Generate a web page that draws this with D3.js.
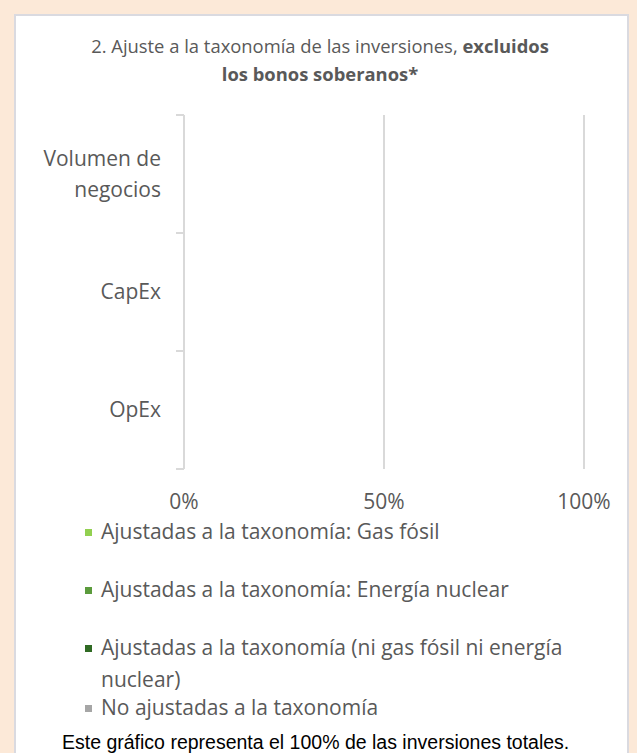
<!DOCTYPE html>
<html>
<head>
<meta charset="utf-8">
<script src="https://cdn.jsdelivr.net/npm/d3@7"></script>
<style>
  body { margin: 0; background: #fce9d8; }
  svg { display: block; }
</style>
</head>
<body>
<svg></svg>
<script>
const categories = ['Volumen de negocios', 'CapEx', 'OpEx'];
const seriesNames = [
    'Ajustadas a la taxonomía: Gas fósil',
    'Ajustadas a la taxonomía: Energía nuclear',
    'Ajustadas a la taxonomía (ni gas fósil ni energía nuclear)',
    'No ajustadas a la taxonomía'
];
const seriesColors = ['#92d050', '#5b9b3c', '#2f6a23', '#a6a6a6'];
// no values are shown in the picture: every bar is empty
const gasFosil = [0, 0, 0];
const nuclear = [0, 0, 0];
const otrasAjustadas = [0, 0, 0];
const noAjustadas = [0, 0, 0];
const xTicks = [0, 0.5, 1];

const width = 637, height = 753;
const svg = d3.select('svg').attr('width', width).attr('height', height);

// panel
svg.append('rect')
    .attr('x', 15).attr('y', 15)
    .attr('width', 613).attr('height', 760)
    .attr('fill', '#fff')
    .attr('stroke', '#dadae0')
    .attr('stroke-width', 2);

const grey = '#595959';
const font = 'Open Sans, Noto Sans, sans-serif';

const title = svg.append('text')
    .attr('x', 320).attr('y', 53)
    .attr('text-anchor', 'middle')
    .attr('font-family', font)
    .attr('font-size', 18.4)
    .attr('fill', grey);
title.append('tspan').text('2. Ajuste a la taxonomía de las inversiones, ');
title.append('tspan').attr('font-weight', 'bold').text('excluidos');
svg.append('text')
    .attr('x', 320).attr('y', 81)
    .attr('text-anchor', 'middle')
    .attr('font-family', font)
    .attr('font-size', 18.4)
    .attr('font-weight', 'bold')
    .attr('fill', grey)
    .text('los bonos soberanos*');

const x = d3.scaleLinear().domain([0, 1]).range([184, 584]);
const y = d3.scaleBand().domain(categories).range([115, 469]).paddingInner(0.5).paddingOuter(0.25);
const yBand = d3.scaleBand().domain(categories).range([115, 469]);

// grid
svg.append('g').selectAll('line')
    .data(xTicks.slice(1))
    .join('line')
    .attr('x1', d => x(d)).attr('x2', d => x(d))
    .attr('y1', 115).attr('y2', 469)
    .attr('stroke', '#d9d9d9')
    .attr('stroke-width', 2);

// stacked bars
const rows = categories.map((c, i) => ({
    cat: c, vals: [gasFosil[i], nuclear[i], otrasAjustadas[i], noAjustadas[i]]
}));
const stack = d3.stack().keys([0, 1, 2, 3]).value((d, k) => d.vals[k]);
svg.append('g').selectAll('g')
    .data(stack(rows))
    .join('g')
    .attr('fill', (d, i) => seriesColors[i])
    .selectAll('rect')
    .data(d => d)
    .join('rect')
    .attr('x', d => x(d[0]))
    .attr('width', d => x(d[1]) - x(d[0]))
    .attr('y', d => y(d.data.cat))
    .attr('height', y.bandwidth());

// y axis line with ticks between categories
const yAxis = svg.append('g').attr('stroke', '#d9d9d9').attr('stroke-width', 2);
yAxis.append('line')
    .attr('x1', x(0)).attr('x2', x(0))
    .attr('y1', 115).attr('y2', 469);
const bounds = categories.map(c => yBand(c)).concat([yBand.range()[1]]);
yAxis.selectAll('line.tick')
    .data(bounds)
    .join('line')
    .attr('class', 'tick')
    .attr('x1', x(0) - 8).attr('x2', x(0))
    .attr('y1', d => d).attr('y2', d => d);

// category labels
const catLines = [['Volumen de', 'negocios'], ['CapEx'], ['OpEx']];
categories.forEach((c, i) => {
    const lines = catLines[i];
    const cy = yBand(c) + yBand.bandwidth() / 2;
    const t = svg.append('text')
        .attr('text-anchor', 'end')
        .attr('font-family', font)
        .attr('font-size', 21)
        .attr('fill', grey);
    lines.forEach((l, j) => {
        t.append('tspan')
            .attr('x', 161)
            .attr('y', cy + 7 + (j - (lines.length - 1) / 2) * 31)
            .text(l);
    });
});

// x tick labels
svg.append('g').selectAll('text')
    .data(xTicks)
    .join('text')
    .attr('x', d => x(d))
    .attr('y', 509)
    .attr('text-anchor', 'middle')
    .attr('font-family', font)
    .attr('font-size', 21)
    .attr('fill', grey)
    .text(d3.format('.0%'));

// legend
const legendY = [532, 590, 648, 708];
const legendLines = [
    [seriesNames[0]],
    [seriesNames[1]],
    ['Ajustadas a la taxonomía (ni gas fósil ni energía', 'nuclear)'],
    [seriesNames[3]]
];
const legend = svg.append('g');
legendLines.forEach((lines, i) => {
    legend.append('rect')
        .attr('x', 85).attr('y', legendY[i] - 3)
        .attr('width', 7).attr('height', 7)
        .attr('fill', seriesColors[i]);
    const t = legend.append('text')
        .attr('font-family', font)
        .attr('font-size', 21)
        .attr('fill', grey);
    lines.forEach((l, j) => {
        t.append('tspan')
            .attr('x', 101)
            .attr('y', legendY[i] + 7 + j * 32)
            .text(l);
    });
});

svg.append('text')
    .attr('x', 62).attr('y', 749)
    .attr('font-family', 'Liberation Sans, Arial, sans-serif')
    .attr('font-size', 19.5)
    .attr('fill', '#000')
    .text('Este gráfico representa el 100% de las inversiones totales.');
</script>
</body>
</html>
